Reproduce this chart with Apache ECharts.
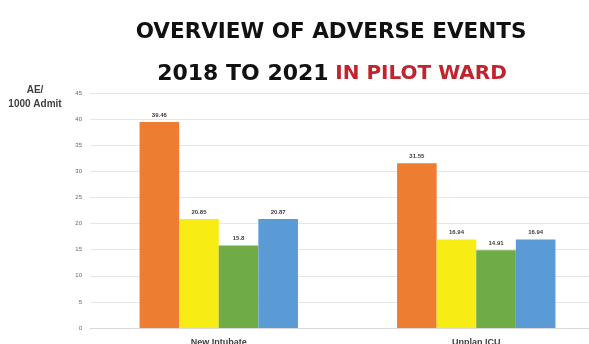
<!DOCTYPE html>
<html>
<head>
<meta charset="utf-8">
<style>
  html, body { margin: 0; padding: 0; background: #ffffff; width: 589px; height: 344px; overflow: hidden; }
  #frame { position: relative; width: 589px; height: 344px; overflow: hidden; }
  /* the plot runs slightly past the right edge of the frame */
  #chart { position: absolute; left: 0; top: 0; width: 605px; height: 344px; }
</style>
<script src="https://cdn.jsdelivr.net/npm/echarts@6/dist/echarts.min.js"></script>
</head>
<body>
<div id="frame"><div id="chart"></div></div>
<script>
// Adverse events per 1000 admissions, two event types, four colour-coded series
const categories = ['New Intubate', 'Unplan ICU'];
const seriesA = [39.46, 31.55];
const seriesB = [20.85, 16.94];
const seriesC = [15.8, 14.91];
const seriesD = [20.87, 16.94];
const yTicks = [0, 5, 10, 15, 20, 25, 30, 35, 40, 45];

const colors = ['#ED7D31', '#F7EC13', '#6FAC46', '#5B9BD5'];
const seriesValues = [seriesA, seriesB, seriesC, seriesD];

const chart = echarts.init(document.getElementById('chart'));

const labelStyle = {
  show: true,
  position: 'top',
  distance: 4,
  fontSize: 6,
  fontWeight: 'bold',
  color: '#404040',
  fontFamily: 'Liberation Sans'
};

chart.setOption({
  animation: false,
  backgroundColor: '#ffffff',
  graphic: [
    {
      type: 'text',
      x: 331, y: 32,
      style: {
        text: 'OVERVIEW OF ADVERSE EVENTS',
        font: 'bold 21.5px "DejaVu Sans"',
        fill: '#111111',
        textAlign: 'center',
        textVerticalAlign: 'middle'
      }
    },
    {
      type: 'text',
      x: 332, y: 74,
      style: {
        text: '{k|2018 TO 2021}  {r|IN PILOT WARD}',
        textAlign: 'center',
        textVerticalAlign: 'middle',
        rich: {
          k: { font: 'bold 22px "DejaVu Sans"', fill: '#111111' },
          r: { font: 'bold 20px "DejaVu Sans"', fill: '#C0242C' }
        }
      }
    },
    {
      // y-axis unit caption
      type: 'text',
      x: 35, y: 97,
      style: {
        text: 'AE/\n1000 Admit',
        font: 'bold 10px "Liberation Sans"',
        lineHeight: 14,
        fill: '#404040',
        textAlign: 'center',
        textVerticalAlign: 'middle'
      }
    }
  ],
  grid: {
    left: 90, right: 0, top: 93, bottom: 16,
    containLabel: false,
    outerBoundsMode: 'none'
  },
  xAxis: {
    type: 'category',
    data: categories,
    axisLine: { show: true, lineStyle: { color: '#d9d9d9' } },
    axisTick: { show: false },
    axisLabel: {
      fontSize: 9,
      fontWeight: 'bold',
      color: '#404040',
      fontFamily: 'Liberation Sans',
      margin: 10
    }
  },
  yAxis: {
    type: 'value',
    min: yTicks[0],
    max: yTicks[yTicks.length - 1],
    interval: 5,
    axisLine: { show: false },
    axisTick: { show: false },
    axisLabel: {
      fontSize: 6,
      color: '#666666',
      fontFamily: 'Liberation Sans',
      margin: 8
    },
    splitLine: { lineStyle: { color: '#e6e6e6', width: 1 } }
  },
  series: seriesValues.map((vals, i) => ({
    type: 'bar',
    data: vals,
    barGap: '0%',
    barCategoryGap: '38.5%',
    itemStyle: { color: colors[i] },
    label: labelStyle
  }))
});
</script>
</body>
</html>
